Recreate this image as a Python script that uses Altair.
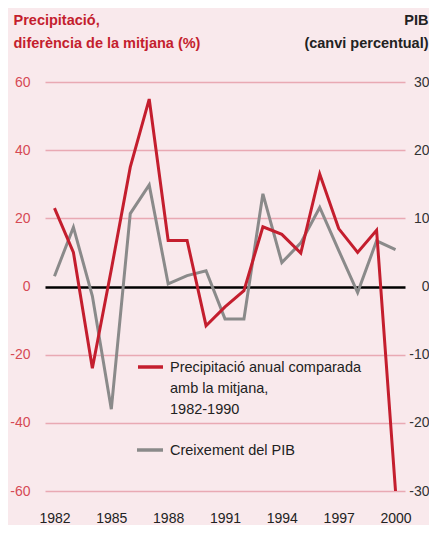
import altair as alt
import pandas as pd

# ---- data ----
years = list(range(1982, 2001))
precip = [23, 10, -24, 5, 35, 55, 13.5, 13.5, -11.5, -6, -1.2, 17.5, 15.3, 9.8,
          33, 17, 10, 16.5, -60]
gdp = [1.5, 8.7, -1.4, -18, 10.7, 14.9, 0.4, 1.6, 2.3, -4.75, -4.75, 13.6, 3.5,
       6.4, 11.6, 5.3, -0.9, 6.7, 5.4]
x_ticks = [1982, 1985, 1988, 1991, 1994, 1997, 2000]
left_ticks = [-60, -40, -20, 0, 20, 40, 60]
right_ticks = [-30, -20, -10, 0, 10, 20, 30]
left_title = ["Precipitació,", "diferència de la mitjana (%)"]
right_title = ["PIB", "(canvi percentual)"]
legend_precip = ["Precipitació anual comparada", "amb la mitjana,", "1982-1990"]
legend_gdp = ["Creixement del PIB"]

df = pd.DataFrame({"year": years, "precip": precip, "gdp": gdp})

FONT = "Liberation Sans, Arial, sans-serif"
RED = "#c41e2e"
GRAY = "#8a8a8a"
GRID = "#e9a9b3"
BG = "#f9e9ec"
TICK_FS = 14
LABEL_EXPR = "'' + datum.value"

x_axis = alt.Axis(values=x_ticks, labelExpr=LABEL_EXPR, title=None, grid=False,
                  domain=False, ticks=False, labelFont=FONT, labelFontSize=TICK_FS,
                  labelColor="#222", labelPadding=31, labelBaseline="alphabetic")
x_enc = alt.X("year:Q", scale=alt.Scale(domain=[1981.5, 2000.5], nice=False, zero=False),
              axis=x_axis)

gray = alt.Chart(df).mark_line(color=GRAY, strokeWidth=3).encode(
    x=x_enc,
    y=alt.Y("gdp:Q", scale=alt.Scale(domain=[-30, 30], nice=False),
            axis=alt.Axis(orient="right", values=right_ticks, labelExpr=LABEL_EXPR,
                          grid=False, domain=False, ticks=False, labelFont=FONT,
                          labelFontSize=TICK_FS, labelColor="#333", labelPadding=24,
                          labelAlign="right",
                          title=right_title, titleAngle=0, titleAlign="right",
                          titleBaseline="alphabetic", titleX=23, titleY=-58,
                          titleFont=FONT, titleFontSize=14.5, titleFontWeight="bold",
                          titleColor="#222", titleLineHeight=23)),
)

red = alt.Chart(df).mark_line(color=RED, strokeWidth=3).encode(
    x=x_enc,
    y=alt.Y("precip:Q", scale=alt.Scale(domain=[-60, 60], nice=False),
            axis=alt.Axis(orient="left", values=left_ticks, labelExpr=LABEL_EXPR,
                          domain=False, ticks=False, grid=True,
                          gridColor={"condition": {"test": "datum.value === 0", "value": "#000000"}, "value": GRID},
                          gridWidth={"condition": {"test": "datum.value === 0", "value": 2.5}, "value": 1.5},
                          labelFont=FONT, labelFontSize=TICK_FS, labelColor="#d64a55",
                          labelPadding=15,
                          title=left_title, titleAngle=0, titleAlign="left",
                          titleBaseline="alphabetic", titleX=-32, titleY=-58,
                          titleFont=FONT, titleFontSize=14.5, titleFontWeight="bold",
                          titleColor=RED, titleLineHeight=23)),
)

one = pd.DataFrame({"k": [0]})
leg_red_line = alt.Chart(one).mark_rule(color=RED, strokeWidth=3.5).encode(
    x=alt.value(93), x2=alt.value(118), y=alt.value(285))
leg_red_text = alt.Chart(one).mark_text(
    align="left", baseline="alphabetic", font=FONT, fontSize=14.5, color="#222",
    lineHeight=21).encode(x=alt.value(125), y=alt.value(290), text=alt.value(legend_precip))
leg_gray_line = alt.Chart(one).mark_rule(color=GRAY, strokeWidth=3.5).encode(
    x=alt.value(92), x2=alt.value(118), y=alt.value(368))
leg_gray_text = alt.Chart(one).mark_text(
    align="left", baseline="alphabetic", font=FONT, fontSize=14.5, color="#222").encode(
    x=alt.value(125), y=alt.value(373), text=alt.value(legend_gdp[0]))

chart = alt.layer(gray, red, leg_red_line, leg_red_text, leg_gray_line, leg_gray_text).resolve_scale(
    y="independent"
).properties(
    width=360, height=409, background=BG,
    padding={"left": 37, "top": 74, "right": 24, "bottom": 34},
    autosize=alt.AutoSizeParams(type="none"),
).configure_view(stroke=None)

chart.save("out.html", embed_options={"renderer": "svg", "actions": False})
